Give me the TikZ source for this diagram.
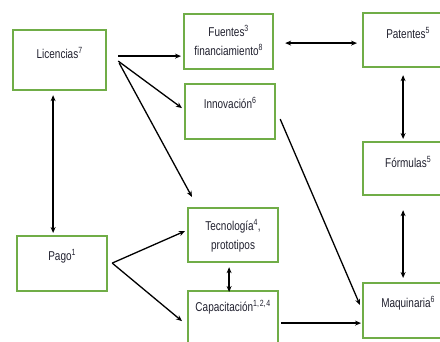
\documentclass[tikz,border=0pt]{standalone}
\usepackage{fontspec}
\setmainfont{Liberation Sans}
\usepackage{graphicx}
\usetikzlibrary{arrows.meta,calc,positioning}
\definecolor{boxgreen}{HTML}{70AD47}
\definecolor{txtdark}{HTML}{20202E}
\newcommand{\nw}[1]{\scalebox{0.78}[1]{#1}}

\begin{document}
\begin{tikzpicture}[x=1pt, y=-1pt,
    box/.style={draw=boxgreen, line width=2.2pt, anchor=north west, align=center,
      text width=86pt, inner xsep=2pt, inner ysep=0pt, text height=24pt, text depth=31pt,
      text=txtdark, font=\fontsize{12.8}{19}\selectfont},
    arr/.style={-{Stealth[length=6pt, width=5pt]}, line width=1.3pt},
    dbl/.style={{Stealth[length=6pt, width=5pt]}-{Stealth[length=6pt, width=5pt]}, line width=1.3pt}]

  % Frame of the picture
  \clip (0,0) rectangle (440,342);

  % Left column
  \node[box, text width=89pt, text height=28pt, text depth=32pt] (lic) at (12,29) {\nw{Licencias\textsuperscript{7}}};
  \node[box] (pago) at (16,235) {\nw{Pago\textsuperscript{1}}};

  % Middle column
  \node[box, text width=85pt, text height=22pt, text depth=33pt] (fuen) at (183,13) {\nw{Fuentes\textsuperscript{3}}\\\nw{financiamiento\textsuperscript{8}}};
  \node[box] (inn) at (184,83) {\nw{Innovación\textsuperscript{6}}};
  \node[box, text height=22pt, text depth=32pt] (tec) at (187,207) {\nw{Tecnología\textsuperscript{4},}\\\nw{prototipos}};
  \node[box, text height=20pt, text depth=40pt] (cap) at (187,290) {\nw{Capacitación\textsuperscript{1,\kern1pt2,\kern1pt4}}};

  % Right column (cut at the edge)
  \node[box, text height=25pt, text depth=29pt] (pat) at (362,12) {\nw{Patentes\textsuperscript{5}}};
  \node[box, text height=25pt, text depth=28pt] (form) at (362,141) {\nw{Fórmulas\textsuperscript{5}}};
  \node[box] (maq) at (362,282) {\nw{Maquinaria\textsuperscript{6}}};

  % Arrows from Licencias
  \draw[arr] ($(lic.east)+(11,-4)$) -- ($(fuen.west)+(-2,14.5)$);
  \draw[arr] ($(lic.east)+(11,1)$) -- ($(inn.west)+(-2,-3.5)$);
  \draw[arr] ($(lic.east)+(12,3)$) -- ($(tec.north west)+(5,-10)$);
  \draw[dbl] ($(lic.south)+(-6.5,4)$) -- ($(pago.north)+(-9,-2)$);

  % Arrows from Pago
  \draw[arr] ($(pago.east)+(4,-0.5)$) -- ($(tec.west)+(-2,-4)$);
  \draw[arr] ($(pago.east)+(4,-0.5)$) -- ($(cap.west)+(-5,0)$);

  % Middle to right
  \draw[dbl] ($(tec.south)+(-4,4)$) -- ($(cap.north)+(-4,2)$);
  \draw[arr] ($(cap.east)+(2,2)$) -- ($(maq.west)+(-1,12.5)$);
  \draw[arr] ($(inn.east)+(4,7.5)$) -- ($(maq.north west)+(-2,23)$);
  \draw[dbl] ($(fuen.east)+(11,1.5)$) -- ($(pat.west)+(-5,3)$);

  % Right column
  \draw[dbl] ($(pat.south)+(-5,7)$) -- ($(form.north)+(-5,-2)$);
  \draw[dbl] ($(form.south)+(-5,14)$) -- ($(maq.north)+(-5,-4)$);
\end{tikzpicture}
\end{document}
